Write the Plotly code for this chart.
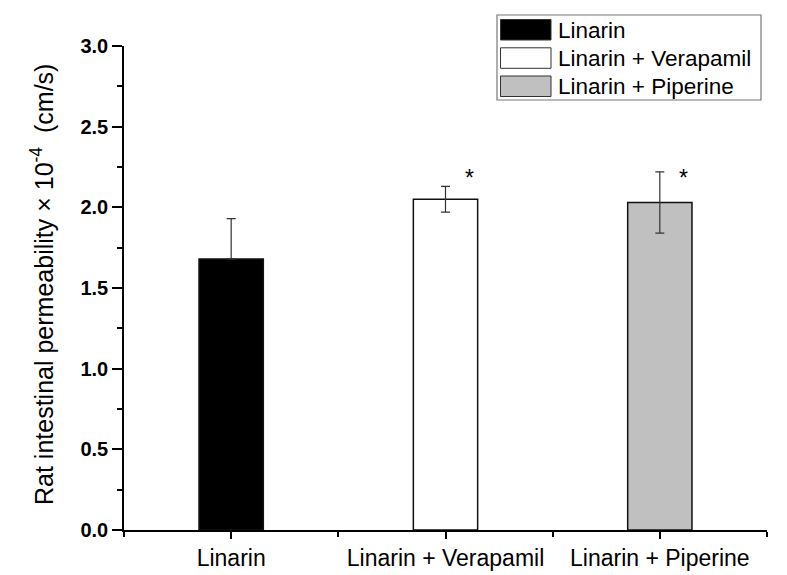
import plotly.graph_objects as go

# ---- data ----
categories = ["Linarin", "Linarin + Verapamil", "Linarin + Piperine"]
values = [1.68, 2.05, 2.03]
errors_plus = [0.25, 0.08, 0.19]
errors_minus = [0.0, 0.08, 0.19]   # lower bar of Linarin is hidden inside the black bar
significant = [False, True, True]
bar_colors = ["#000000", "#ffffff", "#c0c0c0"]
y_tick_values = [0.0, 0.5, 1.0, 1.5, 2.0, 2.5, 3.0]
y_title = "Rat intestinal permeability × 10<sup>-4</sup>  (cm/s)"

FONT = "Arial, 'Liberation Sans', Helvetica, sans-serif"
W, H = 787, 575
L, R, T, B = 124, 20, 46, 45
PW, PH = W - L - R, H - T - B

def px_x(px):
    return (px - L) / PW

def px_y(py):
    return (H - B - py) / PH

xs = list(range(len(categories)))

fig = go.Figure()
fig.add_trace(go.Bar(
    x=xs, y=values, width=0.3,
    marker=dict(color=bar_colors, line=dict(color="#111111", width=1.5)),
    error_y=dict(type="data", array=errors_plus, arrayminus=errors_minus, visible=True,
                 color="#333333", thickness=1.2, width=4.5),
    showlegend=False,
    hoverinfo="skip",
))

annotations = []
for i, s in enumerate(significant):
    if s:
        annotations.append(dict(x=i, y=2.19, xref="x", yref="y", text="*",
                                showarrow=False, xshift=24, yshift=-1,
                                font=dict(family=FONT, size=23, color="#000")))

# y-axis title
annotations.append(dict(x=px_x(42), y=px_y(285), xref="paper", yref="paper",
                        text=y_title, textangle=-90, showarrow=False,
                        xanchor="center", yanchor="middle",
                        font=dict(family=FONT, size=25, color="#000")))

# ---- custom legend ----
shapes = []
shapes.append(dict(type="rect", xref="paper", yref="paper",
                   x0=px_x(497), x1=px_x(761), y0=px_y(100), y1=px_y(15),
                   line=dict(color="#777777", width=1.2), fillcolor="white", layer="above"))
row_tops = [19.5, 47.8, 76]
for name, col, top in zip(categories, bar_colors, row_tops):
    shapes.append(dict(type="rect", xref="paper", yref="paper",
                       x0=px_x(500.5), x1=px_x(551), y0=px_y(top + 20.5), y1=px_y(top),
                       line=dict(color="#333333", width=1), fillcolor=col, layer="above"))
    annotations.append(dict(x=px_x(556), y=px_y(top + 10.5), xref="paper", yref="paper",
                            text=name, showarrow=False, xanchor="left", yanchor="middle",
                            font=dict(family=FONT, size=22.5, color="#000")))

fig.update_layout(
    width=W, height=H,
    margin=dict(l=L, r=R, t=T, b=B, pad=0, autoexpand=False),
    paper_bgcolor="white", plot_bgcolor="white",
    font=dict(family=FONT, color="#000"),
    showlegend=False,
    shapes=shapes,
    annotations=annotations,
    xaxis=dict(
        range=[-0.5, 2.5], automargin=False,
        tickmode="array", tickvals=xs, ticktext=categories,
        ticks="outside", ticklen=7, tickwidth=1.5, tickcolor="#000",
        tickfont=dict(family=FONT, size=23, color="#000"),
        showline=True, linecolor="#000", linewidth=1.5,
        showgrid=False, zeroline=False,
        minor=dict(tickvals=[-0.5, 0.5, 1.5, 2.5], ticks="outside", ticklen=5,
                   tickwidth=1.5, tickcolor="#000", showgrid=False),
    ),
    yaxis=dict(
        range=[0, 3.0], automargin=False,
        tickmode="array", tickvals=y_tick_values, tickformat=".1f",
        ticks="outside", ticklen=10, tickwidth=1.5, tickcolor="#000",
        tickfont=dict(family=FONT, size=20, color="#000", weight="bold"),
        showline=True, linecolor="#000", linewidth=1.5,
        showgrid=False, zeroline=False,
        minor=dict(dtick=0.25, tick0=0, ticks="outside", ticklen=5,
                   tickwidth=1.5, tickcolor="#000", showgrid=False),
    ),
)

fig.write_html("out.html", config={"displayModeBar": False},
               post_script="document.body.style.margin='0';document.body.style.overflow='hidden';")
